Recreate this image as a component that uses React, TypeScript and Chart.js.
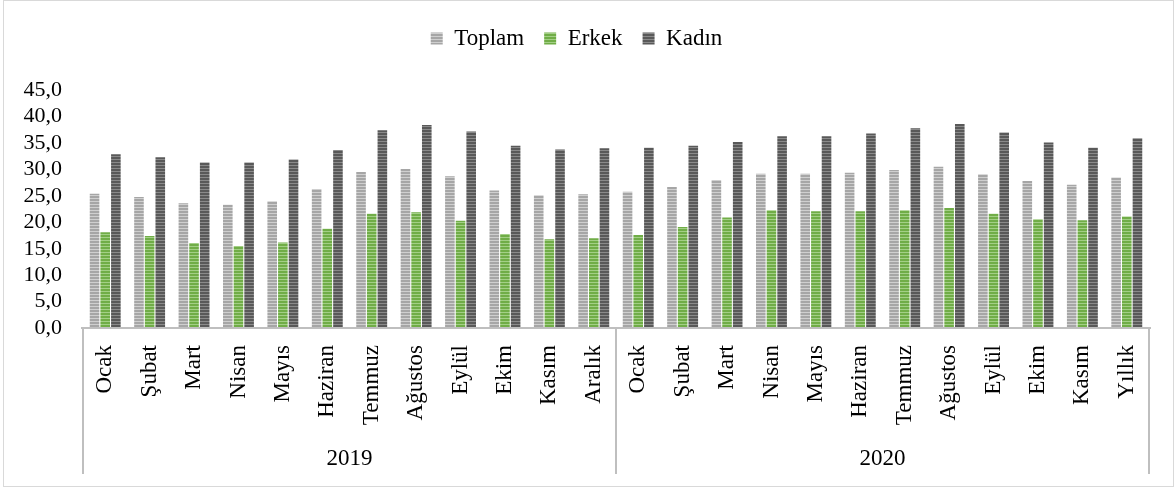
import React, { useEffect, useRef } from "react";
import { Chart, registerables } from "chart.js";

Chart.register(...registerables);

const months2019 = ["Ocak", "Şubat", "Mart", "Nisan", "Mayıs", "Haziran", "Temmuz", "Ağustos", "Eylül", "Ekim", "Kasım", "Aralık"];
const months2020 = ["Ocak", "Şubat", "Mart", "Nisan", "Mayıs", "Haziran", "Temmuz", "Ağustos", "Eylül", "Ekim", "Kasım", "Yıllık"];
const years = ["2019", "2020"];

const toplam = [25.4, 24.8, 23.6, 23.3, 24.0, 26.3, 29.5, 30.1, 28.7, 26.0, 25.1, 25.3,
  25.8, 26.7, 28.0, 29.2, 29.2, 29.4, 29.9, 30.5, 29.1, 27.8, 27.1, 28.5];
const erkek = [18.1, 17.4, 16.1, 15.5, 16.2, 18.8, 21.6, 21.9, 20.3, 17.8, 16.8, 17.0,
  17.6, 19.1, 20.9, 22.3, 22.1, 22.1, 22.3, 22.7, 21.6, 20.6, 20.4, 21.1];
const kadin = [32.9, 32.3, 31.3, 31.3, 31.9, 33.7, 37.4, 38.4, 37.2, 34.5, 33.8, 34.0,
  34.1, 34.5, 35.2, 36.3, 36.3, 36.8, 37.8, 38.6, 37.0, 35.1, 34.1, 35.9];

const FONT = "'Liberation Serif', 'Times New Roman', serif";

function makePattern(fg: string, bg: string): CanvasPattern | string {
  const c = document.createElement("canvas");
  c.width = 4;
  c.height = 3;
  const g = c.getContext("2d");
  if (!g) return fg;
  g.fillStyle = fg;
  g.fillRect(0, 0, 4, 3);
  g.fillStyle = bg;
  g.fillRect(0, 2, 4, 1);
  const p = g.createPattern(c, "repeat");
  return p || fg;
}

const groupPlugin = {
  id: "groupAxis",
  afterDraw(chart: any) {
    const x = chart.scales.x;
    const area = chart.chartArea;
    const ctx = chart.ctx;
    const n = months2019.length + months2020.length;
    const step = (x.getPixelForValue(1) - x.getPixelForValue(0));
    const left = x.getPixelForValue(0) - step / 2;
    const mid = x.getPixelForValue(months2019.length) - step / 2;
    const right = x.getPixelForValue(n - 1) + step / 2;
    const bottom = chart.height - 12;
    ctx.save();
    ctx.strokeStyle = "#bfbfbf";
    ctx.lineWidth = 2;
    ctx.beginPath();
    ctx.moveTo(left - 2, area.bottom);
    ctx.lineTo(right + 2, area.bottom);
    [left, mid, right].forEach((px) => {
      ctx.moveTo(px, area.bottom);
      ctx.lineTo(px, bottom);
    });
    ctx.stroke();
    ctx.fillStyle = "#000";
    ctx.font = `23px ${FONT}`;
    ctx.textAlign = "center";
    ctx.textBaseline = "middle";
    ctx.fillText(years[0], (left + mid) / 2, chart.height - 27);
    ctx.fillText(years[1], (mid + right) / 2, chart.height - 27);
    ctx.restore();
  },
};

export default function App() {
  const ref = useRef<HTMLCanvasElement>(null);

  useEffect(() => {
    if (!ref.current) return;
    const labels = [...months2019, ...months2020];
    const chart = new Chart(ref.current, {
      type: "bar",
      data: {
        labels,
        datasets: [
          { label: "Toplam", data: toplam, backgroundColor: makePattern("#a6a6a6", "#cfcfcf") as any, borderWidth: 0 },
          { label: "Erkek", data: erkek, backgroundColor: makePattern("#70ad47", "#a3cf86") as any, borderWidth: 0 },
          { label: "Kadın", data: kadin, backgroundColor: makePattern("#595959", "#8a8a8a") as any, borderWidth: 0 },
        ],
      },
      options: {
        responsive: false,
        animation: false,
        layout: { padding: { top: 6, right: 24, left: 0, bottom: 0 } },
        datasets: { bar: { categoryPercentage: 0.72, barPercentage: 0.9 } } as any,
        plugins: {
          legend: {
            position: "top",
            labels: {
              boxWidth: 12,
              boxHeight: 12,
              padding: 20,
              color: "#000",
              font: { family: FONT, size: 23 },
            },
          },
          title: {
            display: true,
            text: "",
            weight: 500,
            font: { size: 1 },
            padding: { top: 0, bottom: 29 },
          } as any,
          tooltip: { enabled: false },
        },
        scales: {
          x: {
            grid: { display: false, drawTicks: false },
            border: { display: false },
            ticks: {
              autoSkip: false,
              minRotation: 90,
              maxRotation: 90,
              padding: 17,
              color: "#000",
              font: { family: FONT, size: 23 },
            },
            afterFit: (s: any) => {
              s.height = 158;
            },
          },
          y: {
            min: 0,
            max: 45,
            grid: { display: false, drawTicks: false },
            border: { display: false },
            ticks: {
              stepSize: 5,
              autoSkip: false,
              padding: 21,
              color: "#000",
              font: { family: FONT, size: 22 },
              callback: (v: any) => Number(v).toFixed(1).replace(".", ","),
            },
            afterFit: (s: any) => {
              s.width = 79;
            },
          },
        },
      },
      plugins: [groupPlugin],
    });
    return () => chart.destroy();
  }, []);

  return (
    <div
      style={{
        position: "absolute",
        left: 3,
        top: 0,
        width: 1171,
        height: 487,
        border: "1px solid #d9d9d9",
        boxSizing: "border-box",
        background: "#fff",
      }}
    >
      <canvas ref={ref} width={1169} height={485} style={{ display: "block", width: 1169, height: 485 }} />
    </div>
  );
}
